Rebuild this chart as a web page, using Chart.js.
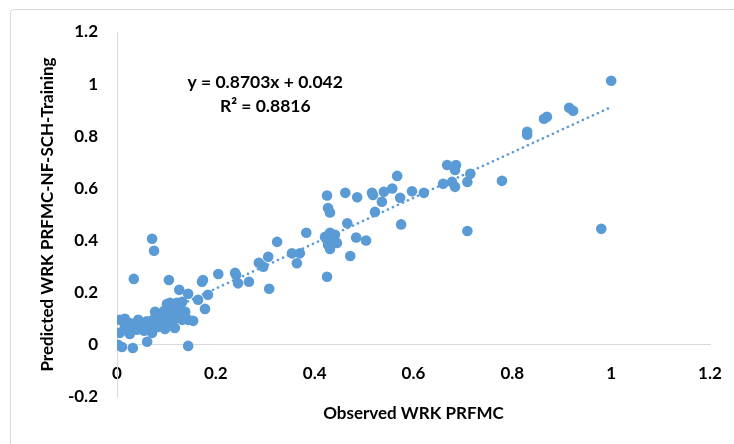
<!DOCTYPE html>
<html>
<head>
<meta charset="utf-8">
<script src="https://cdn.jsdelivr.net/npm/chart.js@4/dist/chart.umd.min.js"></script>
<style>
  html, body { margin: 0; padding: 0; background: #fff; overflow: hidden; }
  #frame {
    position: absolute; left: 10px; top: 9px; width: 740px; height: 450px;
    border: 1px solid #d9d9d9; border-radius: 4px;
  }
  #wrap { position: absolute; left: 0; top: 0; width: 734px; height: 444px; }
</style>
</head>
<body>
<div id="frame"></div>
<div id="wrap"><canvas id="scatterChart"></canvas></div>
<script>
const observed = [
  1.000, 0.915, 0.923, 0.864, 0.870, 0.830, 0.830, 0.668, 0.686, 0.684,
  0.715, 0.660, 0.678, 0.684, 0.709, 0.779, 0.567, 0.516, 0.518, 0.540,
  0.557, 0.536, 0.573, 0.597, 0.621, 0.522, 0.575, 0.709, 0.980, 0.425,
  0.462, 0.486, 0.427, 0.431, 0.466, 0.484, 0.504, 0.472, 0.383, 0.324,
  0.425, 0.354, 0.370, 0.364, 0.306, 0.287, 0.296, 0.239, 0.241, 0.245,
  0.267, 0.308, 0.421, 0.431, 0.441, 0.435, 0.445, 0.427, 0.431, 0.425,
  0.205, 0.172, 0.174, 0.184, 0.164, 0.178, 0.144, 0.126, 0.105, 0.034,
  0.071, 0.075,
  0.006, 0.016, 0.026, 0.043, 0.049, 0.040, 0.055, 0.063, 0.073, 0.077,
  0.083, 0.093, 0.097, 0.103, 0.107, 0.113, 0.121, 0.128, 0.132, 0.138,
  0.121, 0.111, 0.101, 0.132, 0.144, 0.154, 0.117, 0.071, 0.061, 0.026,
  0.006, 0.002, 0.010, 0.032, 0.144, 0.016, 0.101, 0.126, 0.118, 0.095,
  0.085, 0.108, 0.125, 0.135, 0.060, 0.033
];
const predicted = [
  1.013, 0.909, 0.898, 0.867, 0.875, 0.817, 0.806, 0.690, 0.690, 0.671,
  0.656, 0.618, 0.625, 0.606, 0.625, 0.629, 0.648, 0.583, 0.575, 0.587,
  0.600, 0.549, 0.564, 0.589, 0.583, 0.510, 0.462, 0.437, 0.445, 0.573,
  0.583, 0.566, 0.525, 0.508, 0.466, 0.412, 0.400, 0.341, 0.430, 0.395,
  0.261, 0.351, 0.351, 0.313, 0.338, 0.315, 0.300, 0.276, 0.268, 0.236,
  0.242, 0.215, 0.414, 0.430, 0.422, 0.395, 0.391, 0.384, 0.368, 0.403,
  0.272, 0.242, 0.249, 0.192, 0.173, 0.138, 0.196, 0.211, 0.249, 0.253,
  0.407, 0.361,
  0.096, 0.100, 0.084, 0.096, 0.077, 0.058, 0.054, 0.073, 0.096, 0.127,
  0.069, 0.096, 0.061, 0.115, 0.161, 0.134, 0.161, 0.146, 0.165, 0.127,
  0.104, 0.084, 0.069, 0.096, 0.096, 0.092, 0.065, 0.046, 0.012, 0.042,
  0.046, 0.000, -0.008, -0.012, -0.004, 0.069, 0.157, 0.153, 0.120, 0.130,
  0.105, 0.100, 0.128, 0.110, 0.090, 0.075
];
const xTickLabels = [0, 0.2, 0.4, 0.6, 0.8, 1, 1.2];
const yTickLabels = [-0.2, 0, 0.2, 0.4, 0.6, 0.8, 1, 1.2];
const slope = 0.8703;
const intercept = 0.042;
const rSquared = 0.8816;

const blue = '#5b9bd5';
const axisGray = '#d9d9d9';

Chart.defaults.font.family = 'Lato, "Liberation Sans", sans-serif';
Chart.defaults.font.weight = 'bold';
Chart.defaults.font.size = 17;
Chart.defaults.color = '#000';

const points = observed.map((x, i) => ({ x, y: predicted[i] }));
const xMin = Math.min(...observed);
const xMax = Math.max(...observed);
const trend = [
  { x: xMin, y: slope * xMin + intercept },
  { x: xMax, y: slope * xMax + intercept },
];

// equation box printed next to the trendline, like Excel does
const trendLabel = {
  id: 'trendLabel',
  afterDatasetsDraw(chart) {
    const { ctx, scales: { x, y } } = chart;
    const cx = x.getPixelForValue(0.30);
    ctx.save();
    ctx.font = 'bold 17.5px Lato, "Liberation Sans", sans-serif';
    ctx.fillStyle = '#000';
    ctx.textAlign = 'center';
    ctx.textBaseline = 'middle';
    ctx.fillText(`y = ${slope}x + ${intercept}`, cx, y.getPixelForValue(1.007));
    ctx.fillText(`R² = ${rSquared}`, cx, y.getPixelForValue(0.913));
    ctx.restore();
  },
};

const ticksFrom = (labels) => (scale) => {
  scale.ticks = labels.map((value) => ({ value }));
};
const plainLabel = (value) => String(Math.round(value * 10) / 10);

const ctx = document.getElementById('scatterChart').getContext('2d');
const chart = new Chart(ctx, {
  type: 'scatter',
  data: {
    datasets: [
      {
        label: 'Predicted',
        data: points,
        backgroundColor: blue,
        borderColor: blue,
        borderWidth: 0,
        pointRadius: 5.3,
        pointHoverRadius: 5.3,
        order: 1,
      },
      {
        label: 'Linear trend',
        type: 'line',
        data: trend,
        borderColor: blue,
        borderWidth: 2.6,
        borderDash: [0.1, 5.4],
        borderCapStyle: 'round',
        pointRadius: 0,
        fill: false,
        order: 0,
      },
    ],
  },
  options: {
    responsive: true,
    maintainAspectRatio: false,
    animation: false,
    layout: {
      padding: { left: 0, top: 32, right: 24, bottom: 47 },
    },
    plugins: {
      legend: { display: false },
      tooltip: { enabled: false },
    },
    scales: {
      x: {
        type: 'linear',
        position: { y: 0 },
        min: 0,
        max: 1.2,
        afterBuildTicks: ticksFrom(xTickLabels),
        afterFit: (scale) => { scale.paddingLeft = 0; scale.paddingRight = 0; },
        grid: { display: false, drawTicks: false },
        border: { display: true, color: axisGray, width: 1 },
        ticks: { padding: 18, autoSkip: false, maxRotation: 0, callback: plainLabel },
        title: {
          display: true,
          text: 'Observed WRK PRFMC',
          padding: { top: 2, bottom: 0 },
        },
      },
      y: {
        type: 'linear',
        min: -0.2,
        max: 1.2,
        afterBuildTicks: ticksFrom(yTickLabels),
        afterFit: (scale) => { scale.width = 117; },
        grid: { display: false, drawTicks: false },
        border: { display: true, color: axisGray, width: 1 },
        ticks: { padding: 19, autoSkip: false, callback: plainLabel },
        title: {
          display: true,
          text: 'Predicted WRK PRFMC-NF-SCH-Training',
          padding: { top: 37, bottom: 4 },
        },
      },
    },
  },
  plugins: [trendLabel],
});
</script>
</body>
</html>
